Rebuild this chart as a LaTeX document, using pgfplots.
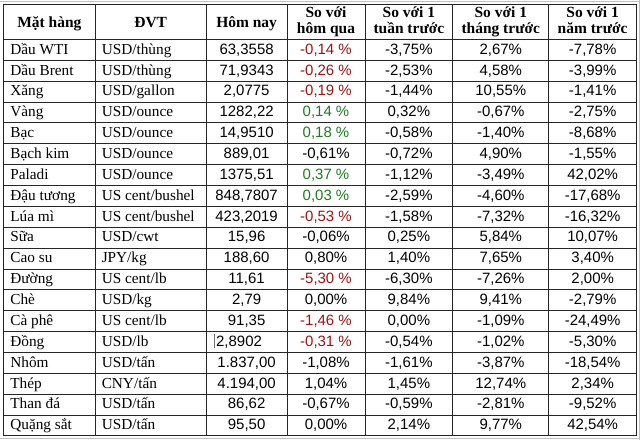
\documentclass[border=0pt]{standalone}
\usepackage{pgfplots}
\pgfplotsset{compat=1.18}
\usepackage{pgfplotstable}
\usepackage{fontspec}
\setmainfont{Liberation Serif}
\newfontfamily\arial{Liberation Sans}
\definecolor{negred}{RGB}{155,20,20}
\definecolor{posgreen}{RGB}{30,125,30}
\pgfplotstableread[col sep=semicolon]{
name;unit;today;d;w;m;y
Dầu WTI;USD/thùng;63,3558;\textcolor{negred}{-0,14 \%};-3,75\%;2,67\%;-7,78\%
Dầu Brent;USD/thùng;71,9343;\textcolor{negred}{-0,26 \%};-2,53\%;4,58\%;-3,99\%
Xăng;USD/gallon;2,0775;\textcolor{negred}{-0,19 \%};-1,44\%;10,55\%;-1,41\%
Vàng;USD/ounce;1282,22;\textcolor{posgreen}{0,14 \%};0,32\%;-0,67\%;-2,75\%
Bạc;USD/ounce;14,9510;\textcolor{posgreen}{0,18 \%};-0,58\%;-1,40\%;-8,68\%
Bạch kim;USD/ounce;889,01;-0,61\%;-0,72\%;4,90\%;-1,55\%
Paladi;USD/ounce;1375,51;\textcolor{posgreen}{0,37 \%};-1,12\%;-3,49\%;42,02\%
Đậu tương;US cent/bushel;848,7807;\textcolor{posgreen}{0,03 \%};-2,59\%;-4,60\%;-17,68\%
Lúa mì;US cent/bushel;423,2019;\textcolor{negred}{-0,53 \%};-1,58\%;-7,32\%;-16,32\%
Sữa;USD/cwt;15,96;-0,06\%;0,25\%;5,84\%;10,07\%
Cao su;JPY/kg;188,60;0,80\%;1,40\%;7,65\%;3,40\%
Đường;US cent/lb;11,61;\textcolor{negred}{-5,30 \%};-6,30\%;-7,26\%;2,00\%
Chè;USD/kg;2,79;0,00\%;9,84\%;9,41\%;-2,79\%
Cà phê;US cent/lb;91,35;\textcolor{negred}{-1,46 \%};0,00\%;-1,09\%;-24,49\%
Đồng;USD/lb;{};\textcolor{negred}{-0,31 \%};-0,54\%;-1,02\%;-5,30\%
Nhôm;USD/tấn;1.837,00;-1,08\%;-1,61\%;-3,87\%;-18,54\%
Thép;CNY/tấn;4.194,00;1,04\%;1,45\%;12,74\%;2,34\%
Than đá;USD/tấn;86,62;-0,67\%;-0,59\%;-2,81\%;-9,52\%
Quặng sắt;USD/tấn;95,50;0,00\%;2,14\%;9,77\%;42,54\%
}\datatable
\pgfplotsset{
  cell/.style={only marks, mark=none, nodes near coords, point meta=explicit symbolic,
    nodes near coords align={anchor=base},
    every node near coord/.append style={anchor=base, inner sep=0pt, outer sep=0pt, text=black}},
  txt/.style={cell, every node near coord/.append style={anchor=base west, font=\fontsize{15.3bp}{18bp}\selectfont}},
  num/.style={cell, every node near coord/.append style={font=\arial\fontsize{15bp}{17bp}\selectfont}},
  hdr/.style={cell, every node near coord/.append style={font=\bfseries\fontsize{15.5bp}{18bp}\selectfont}},
  gridline/.style={black!85, line width=0.9bp, mark=none},
}
\begin{document}
\begin{tikzpicture}
\begin{axis}[width=640bp, height=440bp, scale only axis, xmin=0, xmax=640, ymin=0, ymax=440,
  y dir=reverse, hide axis, clip=false]
% page frame
\addplot[white, mark=none] coordinates {(0,0) (640,0) (640,440) (0,440) (0,0)};
\addplot[black!25, line width=0.8bp, mark=none] coordinates {(0,0.6) (640,0.6)};
\addplot[black!25, line width=0.8bp, mark=none] coordinates {(639.4,0) (639.4,440)};
\addplot[black!25, line width=0.8bp, mark=none] coordinates {(0,438.6) (640,438.6)};
% horizontal rules
\pgfplotsinvokeforeach{4,39,59.9,80.8,101.7,122.6,143.5,164.4,185.3,206.2,227.1,248,268.9,289.8,310.7,331.6,352.5,373.4,394.3,415.2,436}{
  \addplot[gridline] coordinates {(3,#1) (637,#1)};
}
% vertical rules
\pgfplotsinvokeforeach{3,95,206,287,365,453,549,637}{
  \addplot[gridline] coordinates {(#1,4) (#1,436)};
}
% header
\addplot[hdr] coordinates {(49,26.7) [Mặt hàng] (150.5,26.7) [ĐVT] (246.5,26.7) [Hôm nay]
  (326,16.7) [So với] (326,33.3) [hôm qua]
  (409,16.7) [So với 1] (409,33.3) [tuần trước]
  (501,16.7) [So với 1] (501,33.3) [tháng trước]
  (593,16.7) [So với 1] (593,33.3) [năm trước]};
% body
\addplot[txt] table[x expr=10, y expr=53.8+20.9*\coordindex, meta=name] {\datatable};
\addplot[txt] table[x expr=101.5, y expr=53.8+20.9*\coordindex, meta=unit] {\datatable};
\addplot[num] table[x expr=246.5, y expr=53.8+20.9*\coordindex, meta=today] {\datatable};
\addplot[num] table[x expr=326, y expr=53.8+20.9*\coordindex, meta=d] {\datatable};
\addplot[num] table[x expr=409, y expr=53.8+20.9*\coordindex, meta=w] {\datatable};
\addplot[num] table[x expr=501, y expr=53.8+20.9*\coordindex, meta=m] {\datatable};
\addplot[num] table[x expr=593, y expr=53.8+20.9*\coordindex, meta=y] {\datatable};
% left-aligned cell (Đồng) with edit cursor
\addplot[num, every node near coord/.append style={anchor=base west}] coordinates {(216,346.4) [2,8902]};
\addplot[black!55, line width=0.8bp, mark=none] coordinates {(214.3,334.5) (214.3,348)};
\end{axis}
\end{tikzpicture}
\end{document}
